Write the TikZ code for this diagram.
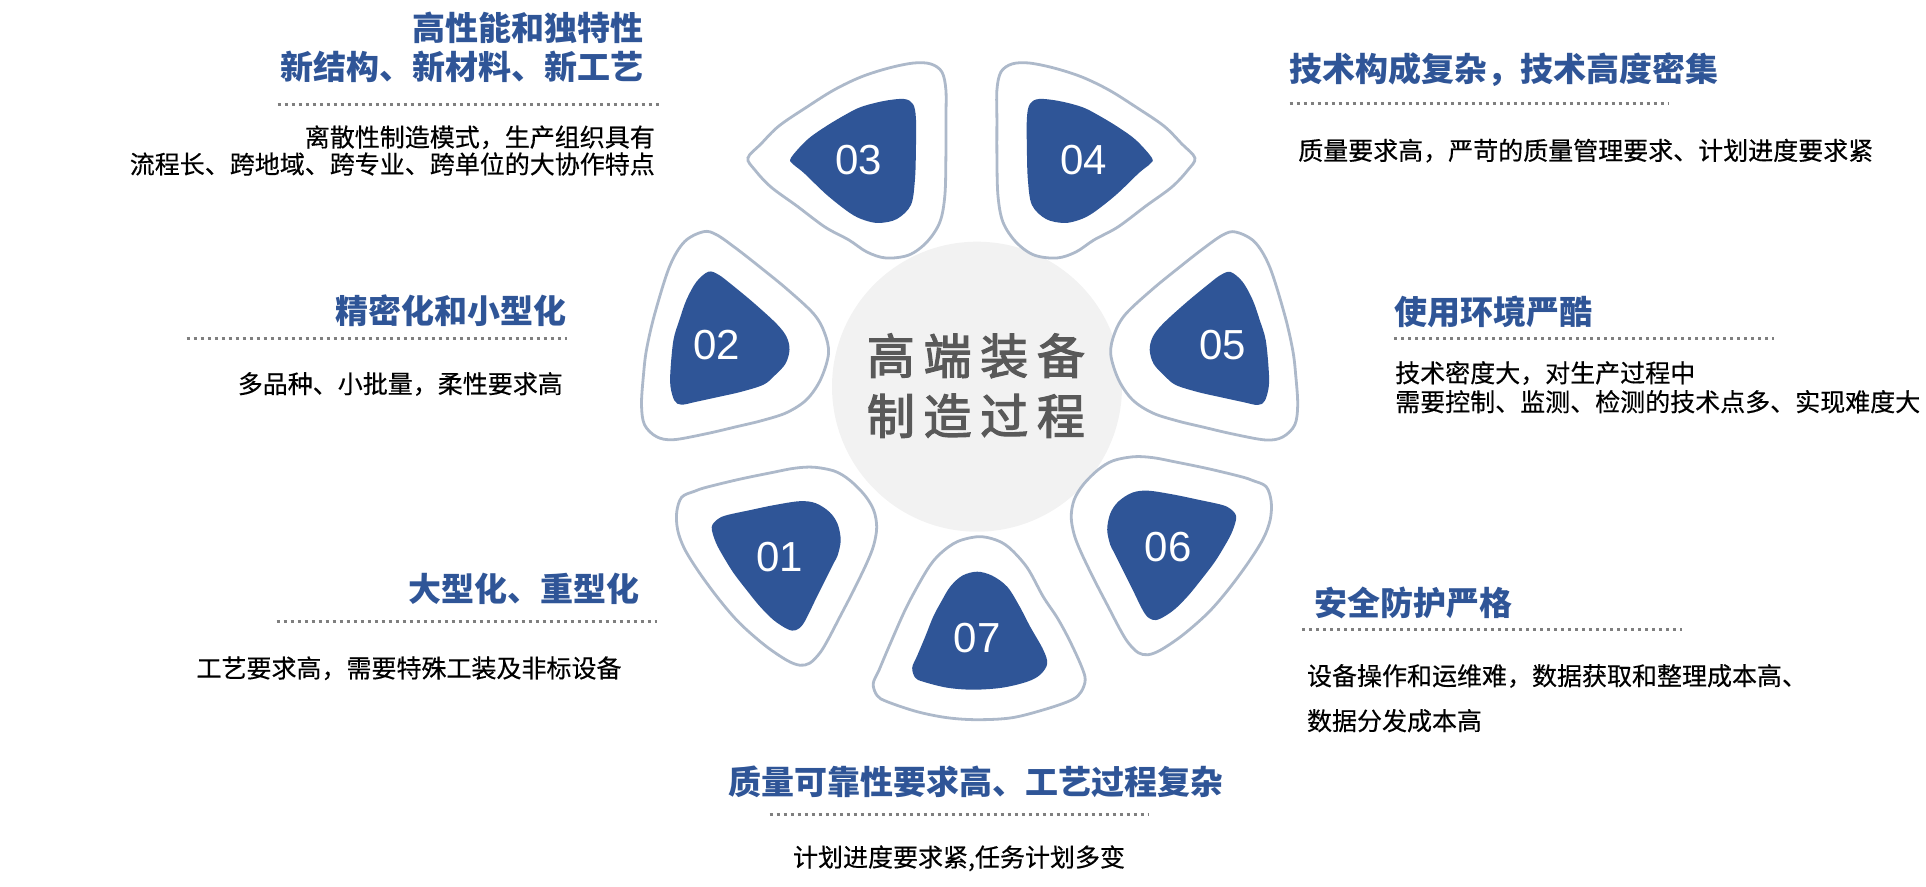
\documentclass[tikz,border=0pt]{standalone}
\usepackage{fontspec}
\setmainfont{Noto Sans CJK SC}
\newfontfamily\numfont{Liberation Sans}
\newfontfamily\hubfont[FakeBold=2.5]{Noto Sans CJK SC}
\newfontfamily\bodyfont[FakeBold=0.4]{Noto Sans CJK SC}
\usetikzlibrary{calc}
\definecolor{petalblue}{HTML}{2F5597}
\definecolor{petalline}{HTML}{ADB9CA}
\definecolor{circgray}{HTML}{F2F2F2}
\definecolor{centertext}{HTML}{595959}
\definecolor{dotgray}{HTML}{7F7F7F}
% #1 node name, #2 text centre, #3 xscale (1 or -1), #4 inner points, #5 outer points, #6 label
\newcommand\petal[6]{%
  \begin{scope}[shift={#2}, xscale=#3]
    \draw[petalouter] plot[smooth cycle, tension=0.55] coordinates {#5};
    \fill[petalinner] plot[smooth cycle, tension=0.55] coordinates {#4};
  \end{scope}
  \node[numtext] (#1) at #2 {#6};}
\newcommand\inA{(-68,2) (-52,20) (-34,33) (-14,45) (2,53) (25,59) (45,61) (54,56) (57,42) (57,10) (56,-20) (52,-45) (38,-59) (20,-63) (5,-60) (-9,-53) (-32,-35) (-55,-13) (-66,-4)}
\newcommand\outA{(-111,2) (-98,16) (-80,34) (-52,53) (-25,70) (2,83) (30,92) (55,97) (72,96) (83,88) (87,70) (87,40) (87,5) (86,-35) (81,-62) (68,-82) (50,-95) (27,-98) (8,-92) (-10,-80) (-34,-67) (-62,-46) (-88,-27) (-104,-10)}
\newcommand\inB{(-8,73) (2,70) (14,61) (37,42) (60,21) (70,8) (73,-5) (69,-19) (58,-31) (47,-40) (25,-47) (3,-52) (-20,-57) (-35,-60) (-42,-56) (-46,-42) (-46,-25) (-43,5) (-37,25) (-30,45) (-20,63)}
\newcommand\outB{(-13,113) (0,110) (20,96) (43,78) (70,56) (97,31) (108,12) (112,-9) (104,-35) (90,-55) (70,-68) (45,-76) (20,-82) (-10,-89) (-43,-95) (-60,-92) (-72,-80) (-75,-60) (-73,-30) (-70,-5) (-62,30) (-47,78) (-32,103)}
\newcommand\inC{(-68,30) (-62,38) (-53,42) (-30,47) (-6,52) (20,56) (36,54) (50,45) (58,33) (61,17) (58,2) (54,-6) (46,-22) (37,-40) (24,-66) (16,-73) (8,-72) (-6,-63) (-20,-49) (-33,-33) (-46,-16) (-56,0) (-64,15)}
\newcommand\outC{(-103,45) (-98,60) (-85,66) (-73,70) (-40,78) (-6,85) (15,89) (34,90) (55,86) (70,77) (85,62) (94,47) (97,30) (94,12) (87,-6) (74,-33) (60,-60) (48,-83) (40,-96) (30,-106) (20,-108) (7,-103) (-15,-88) (-40,-66) (-60,-43) (-80,-16) (-95,8) (-102,27)}
\newcommand\inD{(0,66) (-15,62) (-27,51) (-36,36) (-44,21) (-52,1) (-60,-18) (-65,-30) (-62,-40) (-54,-44) (-30,-50) (-4,-52) (25,-50) (50,-44) (63,-37) (70,-26) (66,-12) (53,11) (42,32) (30,51) (15,62)}
\newcommand\outD{(1,101) (-20,96) (-37,84) (-50,68) (-70,32) (-87,-6) (-98,-32) (-104,-46) (-100,-58) (-90,-64) (-60,-74) (-30,-80) (0,-82) (35,-80) (70,-71) (95,-62) (104,-54) (108,-42) (104,-28) (92,-2) (80,20) (66,41) (50,70) (32,90) (18,98)}
\tikzset{
  petalouter/.style={draw=petalline, line width=2.8pt, fill=white},
  petalinner/.style={fill=petalblue},
  titletext/.style={inner sep=0pt, text=petalblue, font=\fontsize{33}{39}\selectfont\bfseries},
  bodytext/.style={inner sep=0pt, text=black, font=\bodyfont\fontsize{25}{27}\selectfont},
  numtext/.style={inner sep=0pt, text=white, font=\numfont\fontsize{42}{42}\selectfont},
  centerlabel/.style={inner sep=0pt, text=centertext, font=\hubfont\fontsize{48}{50}\selectfont},
  dotline/.style={draw=dotgray, line width=3pt, dash pattern=on 3pt off 4pt},
}
\begin{document}
\begin{tikzpicture}[x=1pt, y=1pt]
\useasboundingbox (0,0) rectangle (1926,886);
% central circle
\node[circle, fill=circgray, minimum size=290pt, inner sep=0pt] (hub) at (977,499.3) {};
\node[centerlabel] (hub1) at (975.9,530.2) {高\hspace{8.7pt}端\hspace{8.7pt}装\hspace{8.7pt}备};
\node[centerlabel] (hub2) at (975.9,470.2) {制\hspace{8.7pt}造\hspace{8.7pt}过\hspace{8.7pt}程};
% petals
\petal{p03}{(858.9,726)}{1}{\inA}{\outA}{03}
\petal{p02}{(716.5,541.3)}{1}{\inB}{\outB}{02}
\petal{p01}{(779.7,328.8)}{1}{\inC}{\outC}{01}
\petal{p07}{(977.2,248.3)}{1}{\inD}{\outD}{07}
\petal{p04}{(1083.9,726)}{-1}{\inA}{\outA}{04}
\petal{p05}{(1222.7,541)}{-1}{\inB}{\outB}{05}
\petal{p06}{(1168.2,339.3)}{-1}{\inC}{\outC}{06}
% block 03 (top left)
\node[titletext, anchor=east] (t03a) at (644,857.7) {高性能和独特性};
\node[titletext, anchor=east] (t03b) at (644,818.7) {新结构、新材料、新工艺};
\coordinate (d03a) at (277.6,781.7); \coordinate (d03b) at (658.6,781.7);
\draw[dotline] (d03a) -- (d03b);
\node[bodytext, anchor=east] (b03a) at (655,748.7) {离散性制造模式，生产组织具有};
\node[bodytext, anchor=east] (b03b) at (655,722) {流程长、跨地域、跨专业、跨单位的大协作特点};
% block 04
\node[titletext, anchor=west] (t04) at (1289.7,816.7) {技术构成复杂，技术高度密集};
\coordinate (d04a) at (1289.7,782); \coordinate (d04b) at (1667.8,782);
\draw[dotline] (d04a) -- (d04b);
\node[bodytext, anchor=west] (b04) at (1298,735.3) {质量要求高，严苛的质量管理要求、计划进度要求紧};
% block 05
\node[titletext, anchor=west] (t05) at (1394,574.3) {使用环境严酷};
\coordinate (d05a) at (1394,547.7); \coordinate (d05b) at (1773.5,547.7);
\draw[dotline] (d05a) -- (d05b);
\node[bodytext, anchor=west] (b05a) at (1395,513) {技术密度大，对生产过程中};
\node[bodytext, anchor=west] (b05b) at (1395,484.3) {需要控制、监测、检测的技术点多、实现难度大};
% block 06
\node[titletext, anchor=west] (t06) at (1314,282.7) {安全防护严格};
\coordinate (d06a) at (1302,256.7); \coordinate (d06b) at (1682,256.7);
\draw[dotline] (d06a) -- (d06b);
\node[bodytext, anchor=west] (b06a) at (1306.8,210) {设备操作和运维难，数据获取和整理成本高、};
\node[bodytext, anchor=west] (b06b) at (1306.8,165.3) {数据分发成本高};
% block 07
\node[titletext] (t07) at (976,104.3) {质量可靠性要求高、工艺过程复杂};
\coordinate (d07a) at (769.6,72); \coordinate (d07b) at (1148,72);
\draw[dotline] (d07a) -- (d07b);
\node[bodytext] (b07) at (959,27.7) {计划进度要求紧,任务计划多变};
% block 02
\node[titletext, anchor=east] (t02) at (566.7,575.3) {精密化和小型化};
\coordinate (d02a) at (186.7,547.7); \coordinate (d02b) at (566.7,547.7);
\draw[dotline] (d02a) -- (d02b);
\node[bodytext, anchor=east] (b02) at (563,502) {多品种、小批量，柔性要求高};
% block 01
\node[titletext, anchor=east] (t01) at (640,296.7) {大型化、重型化};
\coordinate (d01a) at (276.7,264.3); \coordinate (d01b) at (656.7,264.3);
\draw[dotline] (d01a) -- (d01b);
\node[bodytext, anchor=east] (b01) at (621.7,217.7) {工艺要求高，需要特殊工装及非标设备};
\end{tikzpicture}
\end{document}
